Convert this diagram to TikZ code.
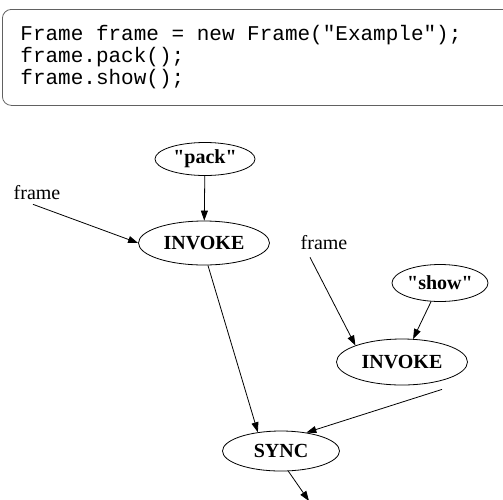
\documentclass[tikz,border=0pt]{standalone}
\usepackage{fontspec}
\setmainfont{Liberation Serif}[Ligatures=TeXOff]
\newfontfamily\codefont{Liberation Mono}[Ligatures=TeXOff]
\usetikzlibrary{shapes.geometric,arrows.meta}

% monospaced text with fixed, full-width spaces
\newcommand\codesize{\codefont\fontsize{21}{22}\selectfont
  \fontdimen2\font=12.6pt\fontdimen3\font=0pt\fontdimen4\font=0pt}

\tikzset{
  codebox/.style={draw=black!62, line width=0.8pt, rounded corners=9pt,
    font=\codesize,
    text width=510pt, inner xsep=18pt, inner ysep=14pt, minimum height=96pt},
  op/.style={ellipse, draw, line width=0.8pt, inner sep=0pt,
    font=\bfseries\fontsize{20}{22}\selectfont},
  lbl/.style={inner sep=2pt, font=\fontsize{20}{22}\selectfont},
  edge/.style={line width=0.8pt, -{Triangle[length=10pt,width=7pt]}}
}

\begin{document}
\begin{tikzpicture}[x=1pt,y=-1pt]
\useasboundingbox (0,0) rectangle (503,499);

% source snippet
\node[codebox, anchor=north west] (code) at (2,9)
  {\spaceskip=12.6pt\xspaceskip=12.6pt
   Frame frame = new Frame("Example");\\frame.pack();\\frame.show();};

% dataflow graph
\node[op, minimum width=100pt, minimum height=33pt] (pack) at (205,159) {"pack"};
\node[op, minimum width=131pt, minimum height=44pt] (inv1) at (204,243) {INVOKE};
\node[op, minimum width=96pt,  minimum height=37pt] (show) at (440,283) {"show"};
\node[op, minimum width=131pt, minimum height=46pt] (inv2) at (402,362) {INVOKE};
\node[op, minimum width=117pt, minimum height=40pt] (sync) at (281,451) {SYNC};

\node[lbl] (f1) at (37,193) {frame};
\node[lbl] (f2) at (324,243) {frame};
\coordinate (out) at (309,501);

\draw[edge] (pack) -- (inv1);
\draw[edge] ([xshift=-4pt,yshift=-2pt]f1.south) -- (inv1.west);
\draw[edge] ([xshift=-14pt,yshift=-5pt]f2.south) -- (inv2.north west);
\draw[edge] (show) -- (inv2);
\draw[edge] (inv1.280) -- (sync.141);
\draw[edge] ([xshift=40pt,yshift=-4pt]inv2.south) -- (sync.36);
\draw[edge] (sync.-70) -- (out);
\end{tikzpicture}
\end{document}
